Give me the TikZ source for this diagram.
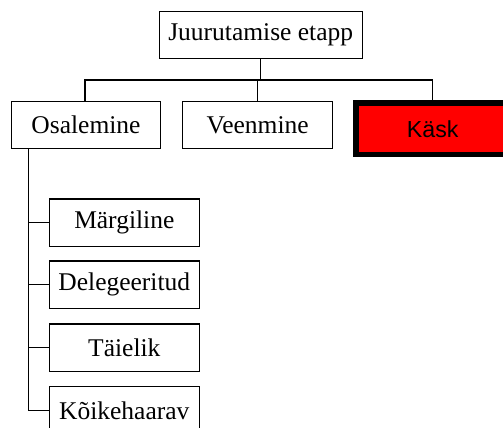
\documentclass[tikz,border=0pt]{standalone}
\usepackage{fontspec}
\setmainfont{Liberation Serif}
\newfontfamily\arialfont{Liberation Sans}
\begin{document}
\begin{tikzpicture}[x=1pt,y=-1pt,
  box/.style={draw=black, line width=1.2pt, fill=white, inner sep=0pt,
    minimum height=47.6pt, font=\fontsize{25.5}{30}\selectfont},
  topbox/.style={box, minimum width=150pt},
  childbox/.style={box, minimum width=150pt},
  redbox/.style={draw=black, line width=5.3pt, fill=red, inner sep=0pt,
    minimum width=153.4pt, minimum height=51.5pt,
    font=\arialfont\fontsize{23.2}{28}\selectfont},
  link/.style={draw=black, line width=1.2pt}]
\useasboundingbox (0,0) rectangle (503,428);
\clip (0,0) rectangle (503,428);
\fill[white] (0,0) rectangle (503,428);

% root and first level
\node[box, minimum width=202.8pt] (root) at (260.7,35) {Juurutamise etapp};
\node[topbox, minimum width=149.4pt] (osa) at (86,125) {Osalemine};
\node[topbox] (veen) at (257.7,125) {Veenmine};
\node[redbox] (kask) at (432.7,128.75) {Käsk};

% second level under Osalemine
\node[childbox] (marg) at (124.3,222.8) {Märgiline};
\node[childbox] (dele) at (124.3,284.8) {Delegeeritud};
\node[childbox] (taie) at (124.3,347.7) {Täielik};
\node[childbox] (koik) at (124.3,410.3) {Kõikehaarav};

% bus between levels
\coordinate (bus) at (0,80);
\draw[link] (root.south) -- (root.south |- bus);
\draw[link] (osa.north -| 85,0) |- (kask.north |- bus) -- (kask.north);
\draw[link] (veen.north) -- (veen.north |- bus);

% trunk under Osalemine
\coordinate (trunk) at (28.8,149);
\draw[link] (trunk) |- (koik.west);
\draw[link] (marg.west) -- (marg.west -| trunk);
\draw[link] (dele.west) -- (dele.west -| trunk);
\draw[link] (taie.west) -- (taie.west -| trunk);
\end{tikzpicture}
\end{document}
